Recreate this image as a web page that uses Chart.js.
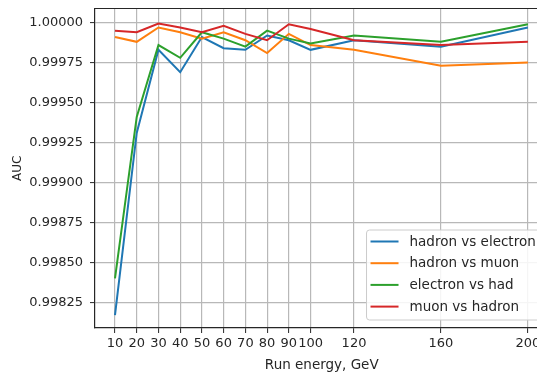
<!DOCTYPE html>
<html>
<head>
<meta charset="utf-8">
<script src="https://cdn.jsdelivr.net/npm/chart.js@4.4.0/dist/chart.umd.min.js"></script>
<style>
  html, body { margin: 0; padding: 0; background: #fff; overflow: hidden; }
  canvas { display: block; }
</style>
</head>
<body>
<canvas id="aucChart" width="537" height="374"></canvas>
<script>
// Run energies (GeV) and AUC values
var energies = [10, 20, 30, 40, 50, 60, 70, 80, 90, 100, 120, 160, 200];
var hadronVsElectron = [0.99817, 0.99931, 0.99983, 0.99969, 0.99991, 0.99984, 0.99983, 0.99992, 0.99989, 0.99983, 0.99989, 0.99985, 0.99997];
var hadronVsMuon = [0.99991, 0.99988, 0.99997, 0.99994, 0.99990, 0.99994, 0.99989, 0.99981, 0.99993, 0.99986, 0.99983, 0.99973, 0.99975];
var electronVsHad = [0.99840, 0.99941, 0.99986, 0.99978, 0.99994, 0.99990, 0.99985, 0.99995, 0.99990, 0.99987, 0.99992, 0.99988, 0.99999];
var muonVsHadron = [0.99995, 0.99994, 0.999995, 0.99997, 0.99994, 0.99998, 0.99993, 0.99989, 0.99999, 0.99996, 0.99989, 0.99986, 0.99988];

var seriesNames = ['hadron vs electron', 'hadron vs muon', 'electron vs had', 'muon vs hadron'];
var seriesColors = ['#1f77b4', '#ff7f0e', '#2ca02c', '#d62728'];

var xTicks = [10, 20, 30, 40, 50, 60, 70, 80, 90, 100, 120, 160, 200];
var yTicks = [0.99825, 0.99850, 0.99875, 0.99900, 0.99925, 0.99950, 0.99975, 1.00000];
var xTitle = 'Run energy, GeV';

// the original figure is cut off on the right: the axis really runs to 209.5
var xMin = 0.8, xVisibleMax = 204.2, xFullMax = 209.5;

var FONT = 'DejaVu Sans';
var gridColor = '#b8b8b8';
var axisColor = '#262626';

function toPoints(values) {
    return energies.map(function(e, i) { return { x: e, y: values[i] }; });
}

var allSeries = [hadronVsElectron, hadronVsMuon, electronVsHad, muonVsHadron];
var datasets = allSeries.map(function(values, i) {
    return {
        label: seriesNames[i],
        data: toPoints(values),
        borderColor: seriesColors[i],
        backgroundColor: seriesColors[i],
        borderWidth: 2,
        pointRadius: 0,
        tension: 0,
        fill: false,
        // later series on top, like matplotlib
        order: allSeries.length - i
    };
});

// top spine, x title centred on the full axis, and a matplotlib-style legend
var framePlugin = {
    id: 'frame',
    afterDatasetsDraw: function(chart) {
        var ctx = chart.ctx;
        var a = chart.chartArea;
        var fullRight = chart.scales.x.getPixelForValue(xFullMax);
        ctx.save();
        ctx.strokeStyle = axisColor;
        ctx.lineWidth = 1.2;
        ctx.beginPath();
        ctx.moveTo(a.left, a.top);
        ctx.lineTo(fullRight, a.top);
        ctx.stroke();

        ctx.fillStyle = axisColor;
        ctx.font = '13.5px "' + FONT + '"';
        ctx.textAlign = 'center';
        ctx.textBaseline = 'middle';
        ctx.fillText(xTitle, (a.left + fullRight) / 2, a.bottom + 37);

        // legend box (runs past the right edge, as in the original crop)
        var boxW = 177, boxH = 90;
        var bx = fullRight - 5 - boxW;
        var by = a.bottom - 8 - boxH;
        var r = 3;
        ctx.beginPath();
        ctx.moveTo(bx + r, by);
        ctx.lineTo(bx + boxW - r, by);
        ctx.arcTo(bx + boxW, by, bx + boxW, by + r, r);
        ctx.lineTo(bx + boxW, by + boxH - r);
        ctx.arcTo(bx + boxW, by + boxH, bx + boxW - r, by + boxH, r);
        ctx.lineTo(bx + r, by + boxH);
        ctx.arcTo(bx, by + boxH, bx, by + boxH - r, r);
        ctx.lineTo(bx, by + r);
        ctx.arcTo(bx, by, bx + r, by, r);
        ctx.closePath();
        ctx.fillStyle = 'rgba(255,255,255,0.85)';
        ctx.fill();
        ctx.strokeStyle = '#cccccc';
        ctx.lineWidth = 1;
        ctx.stroke();

        ctx.textAlign = 'left';
        chart.data.datasets.forEach(function(ds, i) {
            var yy = by + 11.5 + i * 21.7;
            ctx.strokeStyle = ds.borderColor;
            ctx.lineWidth = 2;
            ctx.beginPath();
            ctx.moveTo(bx + 4, yy);
            ctx.lineTo(bx + 32, yy);
            ctx.stroke();
            ctx.fillStyle = axisColor;
            ctx.fillText(ds.label, bx + 43, yy + 0.5);
        });
        ctx.restore();
    }
};

function noScalePadding(scale) {
    scale.paddingLeft = 0;
    scale.paddingRight = 0;
    scale.paddingTop = 0;
    scale.paddingBottom = 0;
}

new Chart(document.getElementById('aucChart').getContext('2d'), {
    type: 'line',
    data: { datasets: datasets },
    plugins: [framePlugin],
    options: {
        responsive: false,
        animation: false,
        layout: { padding: { left: 0, top: 8.5, right: 0, bottom: 0 } },
        plugins: {
            legend: { display: false },
            tooltip: { enabled: false }
        },
        scales: {
            x: {
                type: 'linear',
                min: xMin,
                max: xVisibleMax,
                afterFit: function(scale) {
                    scale.height = 46;
                    noScalePadding(scale);
                },
                afterBuildTicks: function(scale) {
                    scale.ticks = xTicks.map(function(v) { return { value: v }; });
                },
                grid: {
                    color: gridColor,
                    lineWidth: 1.2,
                    tickLength: 5,
                    tickColor: axisColor,
                    tickWidth: 1
                },
                border: { color: axisColor, width: 1.2 },
                ticks: {
                    autoSkip: false,
                    maxRotation: 0,
                    minRotation: 0,
                    padding: 3,
                    color: axisColor,
                    font: { family: FONT, size: 13 },
                    callback: function(v) { return String(v); }
                },
                title: { display: false }
            },
            y: {
                type: 'linear',
                min: 0.998089,
                max: 1.0000887,
                afterFit: function(scale) {
                    scale.width = 95;
                    noScalePadding(scale);
                },
                afterBuildTicks: function(scale) {
                    scale.ticks = yTicks.map(function(v) { return { value: v }; });
                },
                grid: {
                    color: gridColor,
                    lineWidth: 1.2,
                    tickLength: 5,
                    tickColor: axisColor,
                    tickWidth: 1
                },
                border: { color: axisColor, width: 1.2 },
                ticks: {
                    padding: 7,
                    color: axisColor,
                    font: { family: FONT, size: 13 },
                    callback: function(v) { return Number(v).toFixed(5); }
                },
                title: {
                    display: true,
                    text: 'AUC',
                    color: axisColor,
                    font: { family: FONT, size: 12 },
                    padding: { top: 11, bottom: 0 }
                }
            }
        }
    }
});
</script>
</body>
</html>
